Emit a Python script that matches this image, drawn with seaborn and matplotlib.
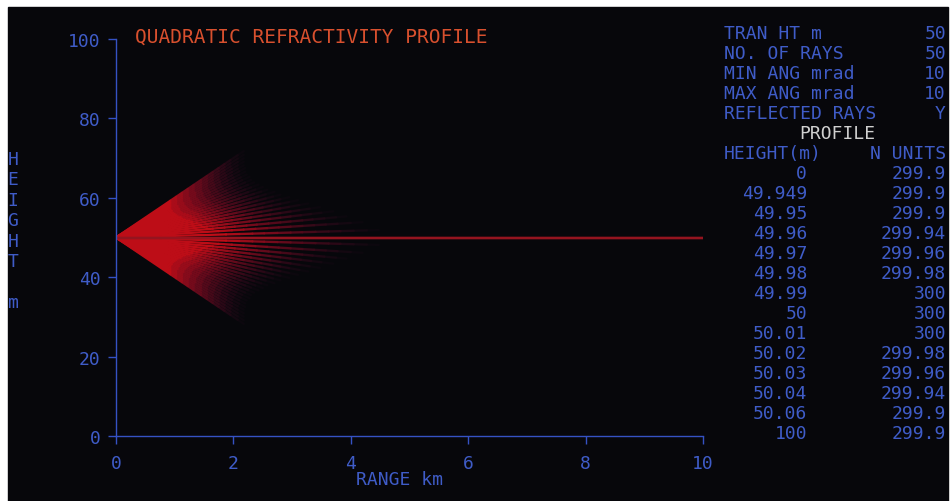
import numpy as np
import pandas as pd
import matplotlib
matplotlib.use("Agg")
import matplotlib.pyplot as plt
from matplotlib.patches import Rectangle
import seaborn as sns

tran_ht_m = 50
n_rays = 50
min_ang_mrad = -10
max_ang_mrad = 10
reflected_rays = "Y"
max_range_km = 10

param_labels = ["TRAN HT m", "NO. OF RAYS", "MIN ANG mrad", "MAX ANG mrad", "REFLECTED RAYS"]
param_values = ["50", "50", "10", "10", "Y"]

profile_height_m = ["0", "49.949", "49.95", "49.96", "49.97", "49.98", "49.99",
                    "50", "50.01", "50.02", "50.03", "50.04", "50.06", "100"]
profile_n_units = ["299.9", "299.9", "299.9", "299.94", "299.96", "299.98", "300",
                   "300", "300", "299.98", "299.96", "299.94", "299.9", "299.9"]

x_ticks = [0, 2, 4, 6, 8, 10]
y_ticks = [0, 20, 40, 60, 80, 100]

# ---------------- colours / style ----------------
BG = "#07070b"
BLUE = "#3552c4"
BLUE_TXT = "#3f5cc8"
RED = np.array([0.74, 0.05, 0.09])
BGc = np.array([0.028, 0.028, 0.043])
TITLE = "#d8502e"
MONO = "DejaVu Sans Mono"

sns.set_theme(style="dark")
plt.rcParams["font.family"] = [MONO, "DejaVu Sans"]

# ---------------- ray trace from the listed parameters ----------------
n_vals = np.array([float(v) for v in profile_n_units])
theta_c = np.sqrt(2 * (n_vals.max() - n_vals.min()) * 1e-6) * 1e3  # mrad
angles = np.linspace(min_ang_mrad, max_ang_mrad, n_rays)
xs = np.linspace(0, max_range_km, 401)

N_LEV = 14
rows = []
uid = 0
for r, th in enumerate(angles):
    if abs(th) <= theta_c:
        for x in xs:
            rows.append((x, float(tran_ht_m), "trapped", uid))
        uid += 1
        continue
    th2 = np.sign(th) * np.sqrt(th ** 2 - theta_c ** 2)
    h = tran_ht_m + th2 * xs
    if reflected_rays == "Y":
        h = np.abs(h)
    L = 1.7 + 2.2 * (1 - abs(th) / max_ang_mrad) ** 3
    s = xs / L
    b = np.clip(1 - (s - 0.5) / 0.8, 0.035, 1.0)
    levs = np.round(b * (N_LEV - 1)).astype(int)
    start = 0
    for i in range(1, len(xs) + 1):
        if i == len(xs) or levs[i] != levs[start]:
            end = min(i, len(xs) - 1)
            for j in range(start, end + 1):
                rows.append((xs[j], h[j], f"L{levs[start]:02d}", uid))
            uid += 1
            start = i

df = pd.DataFrame(rows, columns=["range", "height", "shade", "seg"])

palette = {}
for k in range(N_LEV):
    f = k / (N_LEV - 1)
    c = BGc + (f ** 1.4) * (RED - BGc)
    c = c + np.array([0.0, 0.0, 0.08]) * (1 - f) * f * 2
    palette[f"L{k:02d}"] = tuple(np.clip(c, 0, 1))
palette["trapped"] = (0.58, 0.08, 0.12)
hue_order = [f"L{k:02d}" for k in range(N_LEV)] + ["trapped"]
hue_order = [h for h in hue_order if h in set(df["shade"])]

# ---------------- figure ----------------
W, H = 952, 502
fig = plt.figure(figsize=(W / 100, H / 100), dpi=100, facecolor="white")
fig.patches.append(Rectangle((8 / W, 0), (948 - 8) / W, (H - 8) / H,
                             transform=fig.transFigure, color=BG, zorder=-5))

ax_l, ax_r, ax_t, ax_b = 116, 703, 40, 437
ax = fig.add_axes([ax_l / W, 1 - ax_b / H, (ax_r - ax_l) / W, (ax_b - ax_t) / H])
ax.set_facecolor("none")
ax.set_zorder(2)

sns.lineplot(data=df, x="range", y="height", hue="shade", units="seg",
             estimator=None, palette=palette, hue_order=hue_order,
             linewidth=1.7, legend=False, ax=ax, sort=False)

ax.set_xlim(0, max_range_km)
ax.set_ylim(0, 100)
ax.set_xticks(x_ticks)
ax.set_yticks(y_ticks)
ax.set_xticklabels([str(t) for t in x_ticks])
ax.set_yticklabels([str(t) for t in y_ticks])
ax.grid(False)
for side in ["top", "right"]:
    ax.spines[side].set_visible(False)
for side in ["left", "bottom"]:
    ax.spines[side].set_visible(True)
    ax.spines[side].set_color(BLUE)
    ax.spines[side].set_linewidth(1.0)
ax.tick_params(axis="both", direction="out", length=6, width=1.0, color=BLUE,
               labelcolor=BLUE_TXT, labelsize=13, bottom=True, left=True)
ax.tick_params(axis="y", pad=5)
ax.tick_params(axis="x", pad=7)
for lab in ax.get_xticklabels() + ax.get_yticklabels():
    lab.set_family(MONO)
ax.set_xlabel("")
ax.set_ylabel("")

def fx(px):
    return px / W

def fy(py):
    return 1 - py / H

# title inside plot
fig.text(fx(135), fy(37), "QUADRATIC REFRACTIVITY PROFILE", color=TITLE,
         fontsize=14, family=MONO, va="center", ha="left")

# axis labels
fig.text(fx(400), fy(480), "RANGE km", color=BLUE_TXT, fontsize=13,
         family=MONO, va="center", ha="center")
for i, ch in enumerate("HEIGHT m"):
    if ch != " ":
        fig.text(fx(13), fy(160 + 20.4 * i), ch, color=BLUE_TXT, fontsize=13,
                 family=MONO, va="center", ha="center")

# parameter table
def row_y(i):
    return fy(34 + 20 * i)

TS = 13
for i, (lab, val) in enumerate(zip(param_labels, param_values)):
    fig.text(fx(724), row_y(i), lab, color=BLUE_TXT, fontsize=TS, family=MONO,
             va="center", ha="left")
    fig.text(fx(946), row_y(i), val, color=BLUE_TXT, fontsize=TS, family=MONO,
             va="center", ha="right")
fig.text(fx(837), row_y(5), "PROFILE", color="#d0d0d0", fontsize=TS,
         family=MONO, va="center", ha="center")
fig.text(fx(724), row_y(6), "HEIGHT(m)", color=BLUE_TXT, fontsize=TS,
         family=MONO, va="center", ha="left")
fig.text(fx(946), row_y(6), "N UNITS", color=BLUE_TXT, fontsize=TS,
         family=MONO, va="center", ha="right")
for k, (hh, nn) in enumerate(zip(profile_height_m, profile_n_units)):
    fig.text(fx(807), row_y(7 + k), hh, color=BLUE_TXT, fontsize=TS,
             family=MONO, va="center", ha="right")
    fig.text(fx(946), row_y(7 + k), nn, color=BLUE_TXT, fontsize=TS,
             family=MONO, va="center", ha="right")

fig.savefig("out.png", dpi=100, facecolor="white")
